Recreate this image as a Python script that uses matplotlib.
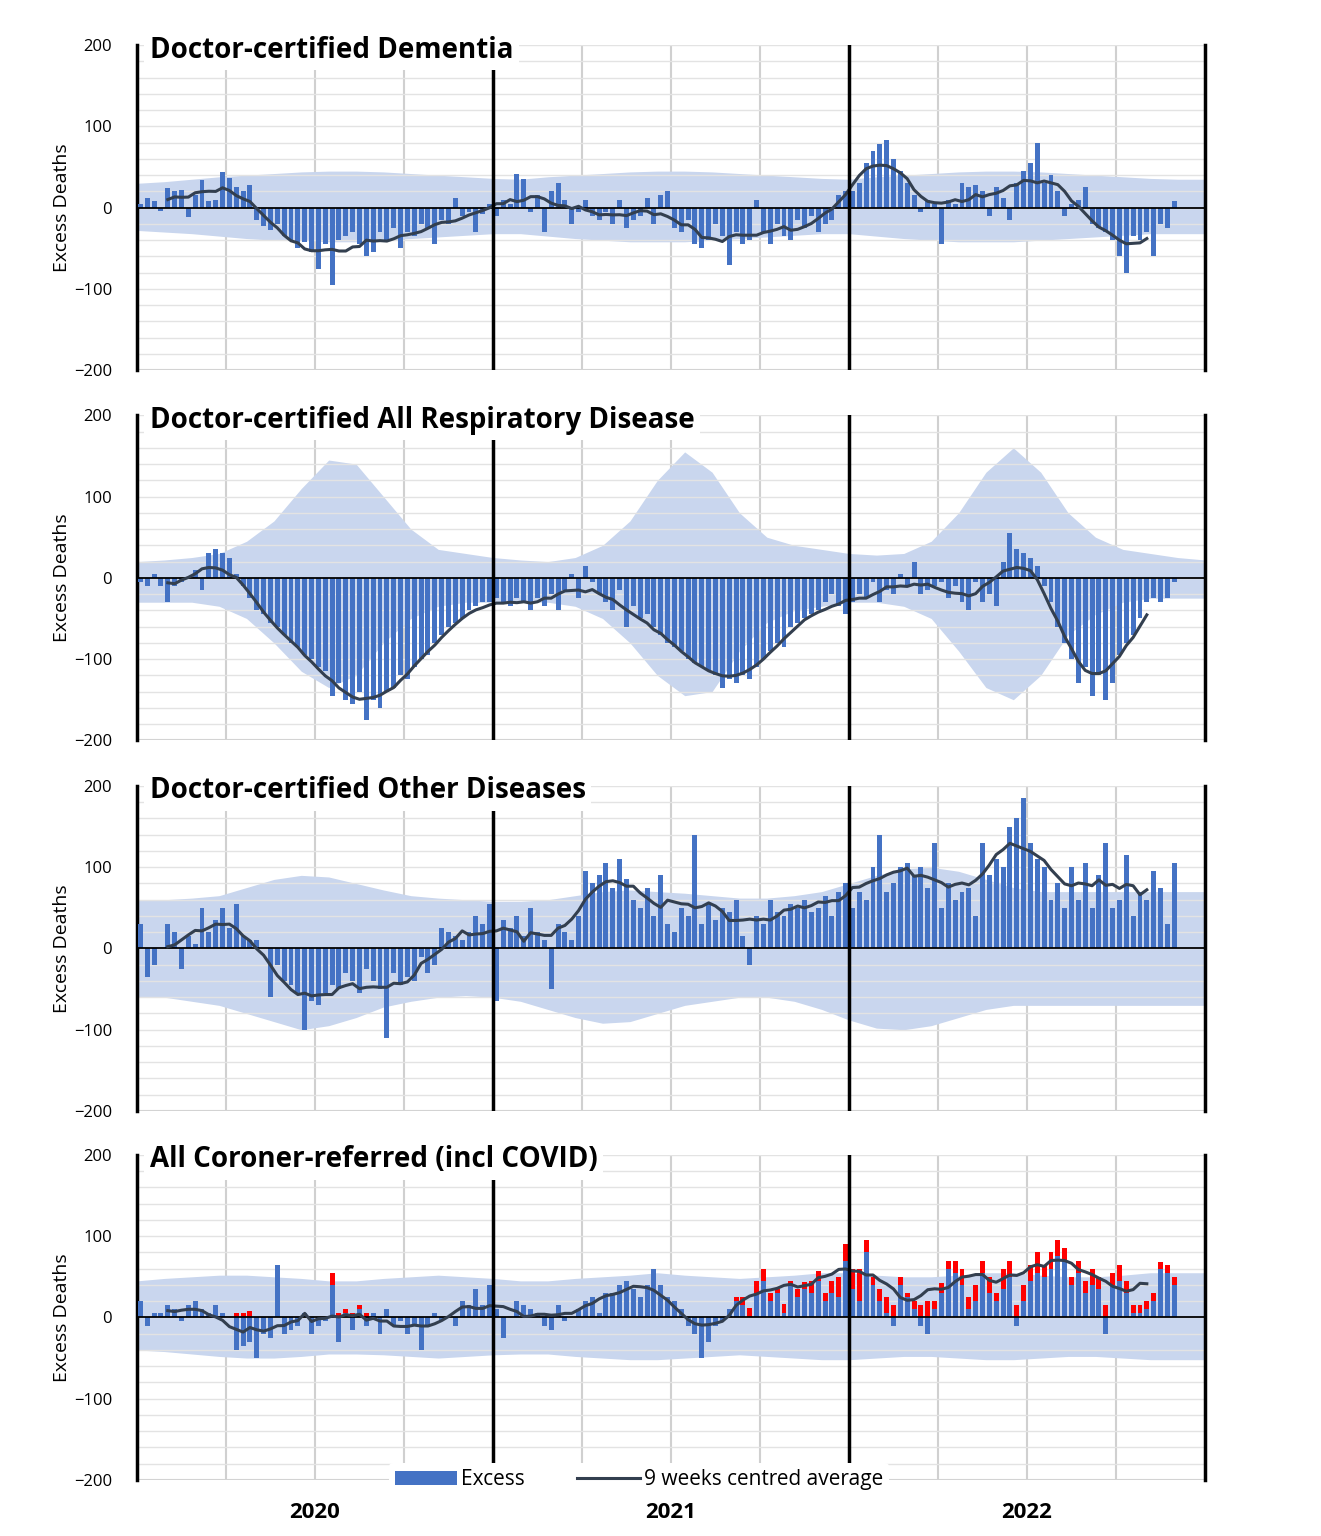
"""Weekly excess deaths by certification type, four stacked panels (2020-2022)."""
import numpy as np
import pandas as pd
import matplotlib

matplotlib.use("Agg")
import matplotlib.pyplot as plt
from matplotlib.patches import Patch
from matplotlib.lines import Line2D

plt.rcParams["font.family"] = "Open Sans"

TITLES = [
    "Doctor-certified Dementia",
    "Doctor-certified All Respiratory Disease",
    "Doctor-certified Other Diseases",
    "All Coroner-referred (incl COVID)",
]
YEARS = ["2020", "2021", "2022"]

# weekly excess, weeks 0..151
dementia = [
    5, 12, 8, -4, 24, 20, 22, -12, 15, 34, 8, 10, 44,
    36, 25, 20, 28, -15, -22, -28, -20, -35, -40, -50, -42, -55,
    -75, -45, -95, -40, -35, -30, -45, -60, -55, -30, -40, -25, -50,
    -30, -35, -20, -25, -45, -15, -20, 12, -10, -5, -30, -8, 5,
    -10, 10, 5, 42, 35, -5, 15, -30, 20, 30, 10, -20, -5,
    10, -10, -15, -5, -20, 10, -25, -15, -10, 12, -20, 15, 20,
    -25, -30, -15, -45, -50, -40, -20, -35, -70, -30, -45, -40, 10,
    -30, -45, -20, -35, -40, -15, -25, -10, -30, -20, -15, 15, 20,
    20, 30, 55, 70, 78, 83, 60, 45, 30, 15, -5, 10, 5,
    -45, 10, 5, 30, 25, 28, 20, -10, 25, 12, -15, 30, 45,
    55, 80, 30, 40, 20, -10, 5, 10, 25, -20, -25, -30, -40,
    -60, -80, -35, -40, -30, -60, -20, -25, 8,
]
respiratory = [
    -5, -10, 5, -10, -30, -10, -5, 0, 10, -15, 30, 35, 30,
    25, 5, -10, -25, -40, -45, -55, -60, -70, -80, -85, -95, -100,
    -110, -115, -145, -130, -150, -155, -140, -175, -150, -160, -140, -135, -120,
    -125, -110, -100, -95, -80, -70, -60, -55, -50, -40, -35, -30, -30,
    -25, -30, -35, -25, -30, -40, -25, -35, -20, -40, -15, 5, -25,
    15, -5, -20, -30, -40, -15, -60, -35, -50, -45, -60, -70, -80,
    -85, -90, -100, -105, -110, -115, -120, -135, -125, -130, -120, -125, -110,
    -100, -90, -80, -85, -60, -55, -50, -45, -40, -30, -20, -35, -45,
    -30, -20, -25, -5, -30, -15, -20, 5, -10, 20, -20, -15, -10,
    -5, -25, -10, -30, -40, -5, -30, -20, -35, 20, 55, 35, 30,
    25, 15, -10, -30, -60, -80, -100, -130, -110, -145, -120, -150, -130,
    -95, -80, -70, -50, -30, -25, -30, -25, -5,
]
other = [
    30, -35, -20, 0, 30, 20, -25, 15, 5, 50, 20, 35, 50,
    25, 55, 15, 10, 10, 0, -60, -20, -40, -45, -55, -100, -65,
    -70, -55, -45, -50, -30, -40, -55, -25, -40, -50, -110, -30, -45,
    -35, -40, -10, -30, -20, 25, 20, 15, 10, 20, 40, 30, 55,
    -65, 35, 25, 40, 15, 50, 20, 10, -50, 30, 20, 10, 40,
    95, 80, 90, 105, 75, 110, 85, 60, 50, 75, 40, 90, 30,
    20, 50, 40, 140, 30, 55, 35, 50, 45, 60, 15, -20, 40,
    30, 60, 45, 40, 55, 50, 60, 45, 50, 65, 40, 70, 80,
    50, 70, 60, 100, 140, 70, 80, 100, 105, 90, 100, 75, 130,
    50, 80, 60, 70, 75, 40, 130, 90, 110, 100, 150, 160, 185,
    130, 110, 100, 60, 80, 50, 100, 60, 105, 50, 90, 130, 50,
    60, 115, 40, 70, 60, 95, 75, 30, 105,
]
coroner_non_covid = [
    20, -10, 5, 5, 15, 10, -5, 15, 20, 10, 5, 15, 5,
    0, -40, -35, -30, -50, -20, -25, 65, -20, -15, -10, 5, -20,
    -10, -5, 40, -30, 5, -15, 10, -10, 5, -20, 10, -10, -5,
    -20, -10, -40, -10, 5, -5, 0, -10, 20, 15, 35, 15, 40,
    10, -25, 0, 20, 15, 10, 5, -10, -15, 15, -5, 0, 10,
    20, 25, 5, 30, 30, 40, 45, 35, 25, 40, 60, 40, 25,
    20, 10, -10, -20, -50, -30, -10, -5, 10, 20, 15, 0, 30,
    45, 20, 30, 5, 40, 25, 35, 30, 45, 20, 30, 25, 70,
    35, 20, 80, 40, 20, 5, -10, 40, 25, 10, -10, -20, 10,
    30, 60, 55, 40, 10, 20, 55, 30, 20, 35, 50, -10, 20,
    45, 55, 50, 60, 75, 70, 40, 55, 30, 40, 35, -20, 40,
    45, 30, 5, 5, 10, 20, 60, 55, 40,
]
coroner_covid = [
    0, 0, 0, 0, 0, 0, 0, 0, 0, 0, 0, 0, 0,
    0, 5, 5, 8, 0, 0, 0, 0, 0, 0, 0, 0, 0,
    0, 0, 15, 5, 5, 5, 5, 5, 0, 0, 0, 0, 0,
    0, 0, 0, 0, 0, 0, 0, 0, 0, 0, 0, 0, 0,
    0, 0, 0, 0, 0, 0, 0, 0, 0, 0, 0, 0, 0,
    0, 0, 0, 0, 0, 0, 0, 0, 0, 0, 0, 0, 0,
    0, 0, 0, 0, 0, 0, 0, 0, 0, 5, 10, 12, 15,
    15, 10, 5, 12, 5, 10, 8, 15, 12, 10, 15, 25, 20,
    25, 40, 15, 10, 15, 20, 15, 10, 5, 10, 15, 20, 10,
    12, 10, 15, 20, 15, 20, 15, 20, 10, 25, 20, 15, 20,
    20, 25, 15, 20, 20, 15, 10, 15, 15, 20, 15, 15, 15,
    20, 15, 10, 10, 10, 10, 8, 10, 10,
]

# expected range band, sampled every 4 weeks (weeks 0..156)
band_weeks = list(range(0, 160, 4))
dementia_hi = [30, 32, 35, 38, 40, 42, 44, 45, 45, 44, 42, 40, 38, 36, 35, 38, 40, 42, 44, 45,
               45, 44, 42, 40, 38, 36, 35, 38, 40, 42, 44, 45, 45, 44, 42, 40, 38, 36, 35, 35]
dementia_lo = [-28, -30, -32, -35, -38, -40, -40, -42, -42, -40, -38, -36, -34, -32, -32, -35, -38, -40, -42, -42,
               -42, -40, -38, -36, -34, -32, -32, -35, -38, -40, -42, -42, -42, -40, -38, -36, -34, -32, -32, -32]
resp_hi = [20, 22, 25, 30, 45, 70, 110, 145, 140, 100, 60, 35, 30, 25, 22, 20, 25, 40, 70, 120,
           155, 130, 80, 50, 40, 35, 30, 28, 30, 45, 80, 130, 160, 130, 80, 50, 35, 30, 25, 22]
resp_lo = [-30, -30, -30, -35, -50, -80, -115, -135, -120, -80, -50, -35, -30, -30, -30, -30, -35, -50, -80, -120,
           -145, -140, -90, -55, -40, -35, -30, -30, -35, -50, -90, -135, -150, -120, -70, -45, -30, -25, -25, -25]
other_hi = [60, 60, 62, 65, 75, 85, 90, 88, 80, 72, 65, 62, 60, 58, 58, 60, 65, 70, 72, 70,
            68, 65, 62, 62, 65, 70, 80, 90, 98, 100, 95, 85, 75, 70, 70, 70, 70, 70, 70, 70]
other_lo = [-60, -60, -65, -70, -80, -90, -100, -95, -85, -72, -65, -60, -58, -60, -65, -75, -85, -92, -90, -80,
            -70, -65, -60, -60, -65, -75, -88, -98, -100, -95, -85, -75, -70, -70, -70, -70, -70, -70, -70, -70]
coroner_hi = [45, 48, 50, 52, 52, 50, 48, 45, 45, 48, 50, 52, 50, 48, 45, 45, 48, 50, 52, 55,
              52, 50, 48, 50, 52, 55, 55, 52, 50, 50, 52, 55, 55, 52, 50, 50, 52, 55, 55, 55]
coroner_lo = [-40, -42, -45, -48, -50, -50, -48, -45, -45, -46, -48, -50, -48, -46, -45, -45, -48, -50, -52, -52,
              -50, -48, -46, -48, -50, -52, -52, -50, -48, -48, -50, -52, -52, -50, -48, -48, -50, -52, -52, -52]

BLUE = "#4472C4"
BAND = "#C9D6EE"
LINE = "#333F4F"

coroner_total = (np.array(coroner_non_covid) + np.array(coroner_covid)).tolist()
panels = [
    (dementia, None, dementia_hi, dementia_lo),
    (respiratory, None, resp_hi, resp_lo),
    (other, None, other_hi, other_lo),
    (coroner_non_covid, coroner_covid, coroner_hi, coroner_lo),
]

fig = plt.figure(figsize=(13.21, 15.36), dpi=100)
bottoms = [0.759, 0.518, 0.2767, 0.0365]
axes = []
for i, (bars, covid, hi, lo) in enumerate(panels):
    ax = fig.add_axes([0.1037, bottoms[i], 0.8085, 0.2116])
    axes.append(ax)
    weeks = np.arange(len(bars)) + 0.5
    ax.fill_between(band_weeks, lo, hi, color=BAND, lw=0, zorder=1)
    ax.bar(weeks, bars, width=0.72, color=BLUE, zorder=3)
    total = bars
    if covid is not None:
        base = np.clip(np.array(bars), 0, None)
        ax.bar(weeks, covid, width=0.72, bottom=base, color="#FF0000", zorder=3)
        total = coroner_total
    avg = pd.Series(total).rolling(9, center=True).mean()
    ax.plot(weeks, avg, color=LINE, lw=2.2, zorder=4)
    ax.axhline(0, color="black", lw=1.3, zorder=3.5)

    ax.set_xlim(0, 156)
    ax.set_ylim(-200, 200)
    ax.set_yticks([-200, -100, 0, 100, 200])
    ax.set_yticks(np.arange(-200, 201, 20), minor=True)
    ax.tick_params(axis="y", which="both", length=0, labelsize=12, pad=18)
    ax.grid(axis="y", which="both", color="#E3E3E3", lw=1, zorder=0)
    for w in range(13, 156, 13):
        if w % 52 == 0:
            ax.axvline(w, color="black", lw=2.5, zorder=5)
        else:
            ax.axvline(w, color="#D0D0D0", lw=1.5, zorder=0.5)
    for side in ["top", "bottom"]:
        ax.spines[side].set_visible(False)
    ax.spines["left"].set_linewidth(2.5)
    ax.spines["right"].set_linewidth(2.5)
    ax.axhline(-200, color="#D0D0D0", lw=1.5, zorder=0.5)
    ax.set_ylabel("Excess Deaths", fontsize=14, labelpad=2)
    ax.text(0.012, 0.985, TITLES[i], transform=ax.transAxes, fontsize=20, fontweight="bold",
            va="center", ha="left", zorder=10,
            bbox=dict(facecolor="white", edgecolor="none", pad=4))
    if i < 3:
        ax.set_xticks([])
    else:
        ax.set_xticks([26, 78, 130])
        ax.set_xticklabels(YEARS, fontsize=16, fontweight="bold")
        ax.tick_params(axis="x", length=0, pad=16)

handles = [Patch(facecolor=BLUE, edgecolor="none"), Line2D([0], [0], color=LINE, lw=2.2)]
leg = axes[3].legend(handles, ["Excess", "9 weeks centred average"], loc="center",
                     bbox_to_anchor=(0.47, 0.0), ncol=2, frameon=True, fontsize=15,
                     handlelength=3, handletextpad=0.2, columnspacing=2.5, borderpad=0.3)
leg.get_frame().set_facecolor("white")
leg.get_frame().set_edgecolor("none")
leg.get_frame().set_alpha(1)
leg.set_zorder(20)

fig.savefig("out.png", dpi=100)
